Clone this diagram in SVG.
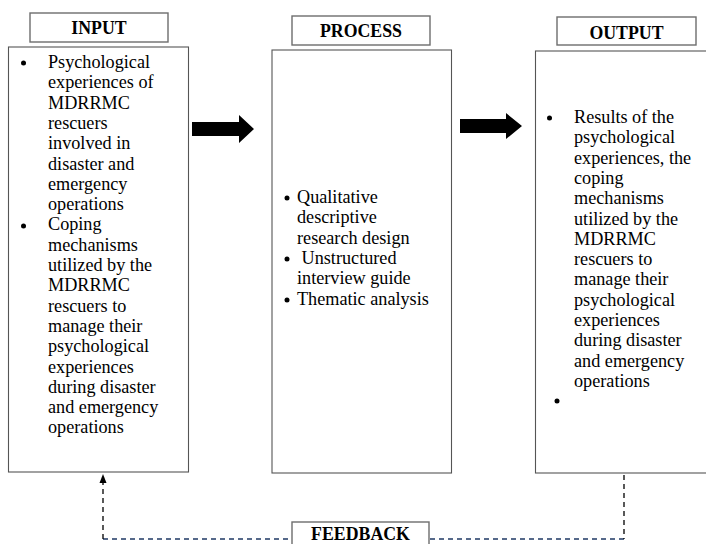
<svg xmlns="http://www.w3.org/2000/svg" width="706" height="544" viewBox="0 0 706 544">
<style>
.title{fill:#fff;stroke:#6d6d6d;stroke-width:1.4}
.box{fill:#fff;stroke:#555;stroke-width:1.1}
.tt{font-family:"Liberation Serif","Times New Roman",serif;font-weight:bold;font-size:17.8px;fill:#000;text-anchor:middle}
.bt{font-family:"Liberation Serif","Times New Roman",serif;font-size:18.2px;fill:#000}
.vd{stroke:#000;stroke-width:1.3;stroke-dasharray:5 4;fill:none}
.hd{stroke:#1f3864;stroke-width:1.3;stroke-dasharray:5 4;fill:none}
</style>
<rect width="706" height="544" fill="#fff"/>
<g id="connectors">
<polygon points="192,122 239,122 239,115 254,129 239,143 239,136 192,136" fill="#000"/>
<polygon points="460,119 506,119 506,113 522,126 506,139 506,133 460,133" fill="#000"/>
<path class="hd" d="M103,539 H292"/>
<path class="hd" d="M430,539 H624"/>
<path class="vd" d="M624,475 V539"/>
<path class="vd" d="M103,539 V482"/>
<polygon points="103,474 99.5,483 106.5,483" fill="#000"/>
</g>
<g id="input">
<rect class="title" x="30" y="13" width="138" height="29"/>
<text class="tt" x="99" y="34">INPUT</text>
<rect class="box" x="8.5" y="47" width="180" height="425"/>
<g class="bt">
<circle cx="23.5" cy="63" r="2.5"/>
<text x="48" y="68">Psychological</text>
<text x="48" y="88.3">experiences of</text>
<text x="48" y="108.6">MDRRMC</text>
<text x="48" y="128.9">rescuers</text>
<text x="48" y="149.2">involved in</text>
<text x="48" y="169.5">disaster and</text>
<text x="48" y="189.8">emergency</text>
<text x="48" y="210.1">operations</text>
<circle cx="23.5" cy="226" r="2.5"/>
<text x="48" y="230.4">Coping</text>
<text x="48" y="250.7">mechanisms</text>
<text x="48" y="271">utilized by the</text>
<text x="48" y="291.3">MDRRMC</text>
<text x="48" y="311.6">rescuers to</text>
<text x="48" y="331.9">manage their</text>
<text x="48" y="352.2">psychological</text>
<text x="48" y="372.5">experiences</text>
<text x="48" y="392.8">during disaster</text>
<text x="48" y="413.1">and emergency</text>
<text x="48" y="433.4">operations</text>
</g>
</g>
<g id="process">
<rect class="title" x="292" y="16" width="138" height="29"/>
<text class="tt" x="361" y="37">PROCESS</text>
<rect class="box" x="272" y="50" width="179.5" height="423"/>
<g class="bt">
<circle cx="287" cy="198" r="2.5"/>
<text x="297" y="203">Qualitative</text>
<text x="297" y="223.3">descriptive</text>
<text x="297" y="243.6">research design</text>
<circle cx="287" cy="259" r="2.5"/>
<text x="297" y="263.9" xml:space="preserve"> Unstructured</text>
<text x="297" y="284.2">interview guide</text>
<circle cx="287" cy="300" r="2.5"/>
<text x="297" y="304.5">Thematic analysis</text>
</g>
</g>
<g id="output">
<rect class="title" x="557" y="17" width="139" height="28"/>
<text class="tt" x="626.5" y="38.5">OUTPUT</text>
<rect class="box" x="535.5" y="51" width="180" height="422"/>
<g class="bt">
<circle cx="549.5" cy="118" r="2.5"/>
<text x="574" y="123">Results of the</text>
<text x="574" y="143.3">psychological</text>
<text x="574" y="163.6">experiences, the</text>
<text x="574" y="183.9">coping</text>
<text x="574" y="204.2">mechanisms</text>
<text x="574" y="224.5">utilized by the</text>
<text x="574" y="244.8">MDRRMC</text>
<text x="574" y="265.1">rescuers to</text>
<text x="574" y="285.4">manage their</text>
<text x="574" y="305.7">psychological</text>
<text x="574" y="326">experiences</text>
<text x="574" y="346.3">during disaster</text>
<text x="574" y="366.6">and emergency</text>
<text x="574" y="386.9">operations</text>
<circle cx="557" cy="401" r="2.5"/>
</g>
</g>
<g id="feedback">
<rect class="title" x="292" y="522" width="137" height="30"/>
<text class="tt" x="360.5" y="540">FEEDBACK</text>
</g>
</svg>
